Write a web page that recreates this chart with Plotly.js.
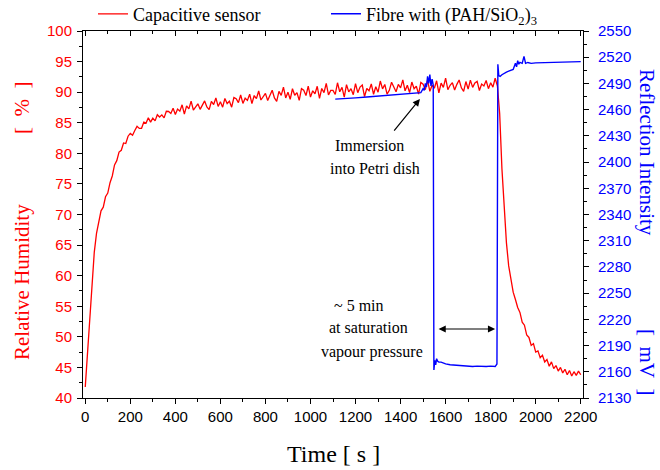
<!DOCTYPE html>
<html><head><meta charset="utf-8">
<script src="https://cdn.plot.ly/plotly-3.0.1.min.js"></script>
<style>html,body{margin:0;padding:0;background:#fff}</style>
</head><body><div id="chart" style="width:660px;height:470px"></div>
<script>
// Capacitive sensor, relative humidity [%], sampled every 10 s from 0 to 2200 s
const timeStep = 10;
const humidity = [
  41.8, 47.2, 53.5, 59.6, 63.8, 66.9, 68.6, 70.6, 71.2, 72.9,
  73.5, 75.2, 76.3, 78.1, 78.8, 80.2, 80.5, 81.7, 81.6, 82.8,
  83.25, 82.97, 83.74, 84.41, 84.08, 84.1, 85.1, 84.95, 85.8, 85.1,
  85.75, 85.31, 86.32, 85.93, 86.29, 85.8, 86.87, 86.84, 86.51, 87.38,
  86.36, 87.23, 86.9, 87.93, 86.4, 87.75, 87.26, 88.53, 87.08, 87.71,
  88.1, 87.19, 87.96, 88.57, 87.58, 87.15, 88.48, 87.97, 89.06, 87.67,
  88.44, 87.54, 88.96, 88.14, 88.52, 87.54, 89.12, 88.94, 88.28, 89.54,
  88.16, 89.01, 88.66, 89.67, 88.12, 89.45, 88.94, 90.19, 88.72, 89.33,
  89.8, 88.64, 89.58, 90.32, 89.06, 88.5, 90.14, 89.48, 90.82, 89.06,
  90.0, 88.83, 90.56, 89.49, 89.92, 88.65, 90.58, 90.31, 89.44, 90.97,
  89.2, 90.22, 89.74, 90.96, 88.98, 90.6, 89.92, 91.44, 89.56, 90.28,
  90.3, 89.62, 91.54, 90.06, 90.78, 89.2, 91.22, 90.04, 90.56, 89.58,
  91.4, 89.92, 90.84, 91.16, 89.28, 90.6, 90.22, 91.34, 89.66, 90.88,
  90.0, 91.82, 90.54, 91.26, 89.68, 90.3, 91.62, 90.94, 90.06, 91.28,
  90.7, 92.01, 90.22, 91.13, 89.94, 91.65, 90.56, 90.97, 89.68, 91.59,
  91.3, 90.41, 91.92, 90.13, 91.14, 90.65, 91.86, 89.87, 91.48, 90.79,
  92.3, 90.42, 91.13, 91.55, 90.36, 91.28, 91.99, 90.71, 90.12, 91.74,
  90.51, 91.97, 90.78, 91.52, 91.77, 90.27, 91.32, 91.02, 91.91, 90.57,
  91.54, 90.83, 92.28, 91.01, 86.5, 77.5, 71.0, 65.4, 61.6, 59.4,
  57.3, 56.1, 54.8, 54.0, 52.4, 51.9, 50.3, 49.9, 48.6, 48.9,
  47.5, 47.7, 46.6, 47.0, 45.9, 46.3, 45.2, 45.9, 44.8, 45.3,
  44.4, 45.0, 44.1, 44.7, 43.8, 44.5, 43.6, 44.3, 43.7, 44.4, 43.8
];
const humidityTime = humidity.map((_, i) => i * timeStep);

// Fibre with (PAH/SiO2)3, reflection intensity [mV]
const reflectionTime = [
  1110, 1150, 1200, 1250, 1300, 1350, 1400, 1450, 1490, 1500,
  1505, 1510, 1515, 1520, 1525, 1530, 1535, 1540, 1545, 1548,
  1552, 1556, 1560, 1565, 1570, 1580, 1600, 1620, 1640, 1660,
  1680, 1700, 1720, 1740, 1760, 1780, 1800, 1820, 1828, 1832,
  1836, 1842, 1850, 1860, 1870, 1880, 1890, 1900, 1910, 1915,
  1920, 1925, 1930, 1940, 1948, 1955, 1965, 1980, 2000, 2050,
  2100, 2150, 2200
];
const reflection = [
  2472, 2473, 2473.5, 2474.5, 2475.5, 2476, 2477, 2478, 2479.5, 2484,
  2482, 2490, 2486, 2498, 2490, 2500, 2487, 2495, 2488, 2162,
  2173, 2168, 2175, 2172, 2171, 2171, 2169, 2168, 2167.5, 2167,
  2166.5, 2166.5, 2166, 2166.5, 2166, 2166, 2166.5, 2166, 2169, 2512,
  2499, 2498, 2500, 2502, 2503, 2504, 2505, 2506, 2513, 2509,
  2516, 2512, 2514, 2513, 2521, 2513, 2514, 2513, 2513.5, 2514,
  2514, 2514.5, 2515
];

const xTickVals = [0, 200, 400, 600, 800, 1000, 1200, 1400, 1600, 1800, 2000, 2200];
const rhTickVals = [40, 45, 50, 55, 60, 65, 70, 75, 80, 85, 90, 95, 100];
const riTickVals = [2130, 2160, 2190, 2220, 2250, 2280, 2310, 2340, 2370, 2400, 2430, 2460, 2490, 2520, 2550];

const SERIF = '"Liberation Serif", "Times New Roman", serif';
const SANS = '"Liberation Sans", Arial, sans-serif';
const xRange = [-10, 2210];

const traces = [
  {x: humidityTime, y: humidity, type: 'scatter', mode: 'lines', name: 'Capacitive sensor',
   line: {color: '#ff0000', width: 1.3}, xaxis: 'x', yaxis: 'y'},
  {x: reflectionTime, y: reflection, type: 'scatter', mode: 'lines', name: 'Fibre with (PAH/SiO<sub>2</sub>)<sub>3</sub>',
   line: {color: '#0000ff', width: 1.4}, xaxis: 'x', yaxis: 'y2'},
  {x: [null], y: [null], xaxis: 'x2', yaxis: 'y', showlegend: false, hoverinfo: 'skip', mode: 'lines'}
];

const ann = (text, x, y, extra) => Object.assign({text, x, y, xref: 'x', yref: 'y', showarrow: false,
  font: {family: SERIF, size: 16, color: '#000'}}, extra || {});
const sideTitle = (text, x, y, angle, color) => ({text, x, y, xref: 'paper', yref: 'paper',
  textangle: angle, xanchor: 'center', yanchor: 'middle', showarrow: false,
  font: {family: SERIF, size: 21, color}});

const layout = {
  width: 660, height: 470,
  margin: {l: 83, r: 77, t: 31, b: 72, autoexpand: false},
  paper_bgcolor: '#fff', plot_bgcolor: '#fff',
  showlegend: true,
  legend: {orientation: 'h', x: 0.02, xanchor: 'left', y: 1.046, yanchor: 'middle',
    font: {family: SERIF, size: 18, color: '#000'}, entrywidth: 188, bgcolor: 'rgba(0,0,0,0)'},
  xaxis: {range: xRange, autorange: false, tickvals: xTickVals, ticks: 'outside', ticklen: 5, tickwidth: 1,
    tickcolor: '#000', showline: true, linecolor: '#000', linewidth: 1, showgrid: false, zeroline: false,
    tickfont: {family: SANS, size: 15, color: '#000'},
    minor: {dtick: 100, tick0: 0, ticks: 'outside', ticklen: 3, tickcolor: '#000', showgrid: false}},
  xaxis2: {range: xRange, autorange: false, overlaying: 'x', side: 'top', anchor: 'y', tickvals: xTickVals,
    ticks: 'inside', ticklen: 5, tickcolor: '#000', showticklabels: false, showline: true, linecolor: '#000',
    showgrid: false, zeroline: false,
    minor: {dtick: 100, tick0: 0, ticks: 'inside', ticklen: 3, tickcolor: '#000', showgrid: false}},
  yaxis: {range: [40, 100], autorange: false, tickvals: rhTickVals, ticks: 'outside', ticklen: 5,
    tickcolor: '#000', showline: true, linecolor: '#000', showgrid: false, zeroline: false,
    tickfont: {family: SANS, size: 15, color: '#ff0000'}, ticklabelstandoff: 2,
    minor: {dtick: 2.5, tick0: 40, ticks: 'outside', ticklen: 3, tickcolor: '#000', showgrid: false}},
  yaxis2: {range: [2130, 2550], autorange: false, overlaying: 'y', side: 'right', anchor: 'x',
    tickvals: riTickVals, ticks: 'outside', ticklen: 5, tickcolor: '#000', showline: true, linecolor: '#000',
    showgrid: false, zeroline: false, tickfont: {family: SANS, size: 15, color: '#0000ff'}, ticklabelstandoff: 6,
    minor: {dtick: 15, tick0: 2130, ticks: 'outside', ticklen: 3, tickcolor: '#000', showgrid: false}},
  annotations: [
    sideTitle('Relative Humidity', -0.122, 0.316, -90, '#ff0000'),
    sideTitle('[&nbsp;&nbsp;%&nbsp;&nbsp;]', -0.122, 0.79, -90, '#ff0000'),
    sideTitle('Reflection Intensity', 1.128, 0.67, 90, '#0000ff'),
    sideTitle('[&nbsp;&nbsp;mV&nbsp;&nbsp;]', 1.128, 0.098, 90, '#0000ff'),
    {text: 'Time [ s ]', xref: 'paper', yref: 'paper', x: 0.5, y: -0.152, xanchor: 'center', yanchor: 'middle',
     showarrow: false, font: {family: SERIF, size: 24, color: '#000'}},
    ann('Immersion', 1264, 81.36),
    ann('into Petri dish', 1287, 77.44),
    ann('~ 5 min', 1216, 55.2),
    ann('at saturation', 1256, 51.45),
    ann('vapour pressure', 1273, 47.52),
    {text: '', x: 1486, y: 88.88, xref: 'x', yref: 'y', showarrow: true, ax: -27, ay: 33,
     arrowhead: 2, arrowsize: 1.2, arrowwidth: 1.2, arrowcolor: '#000'},
    {text: '', x: 1820, y: 51.28, xref: 'x', yref: 'y', showarrow: true, ax: 1562, ay: 51.28,
     axref: 'x', ayref: 'y', arrowhead: 2, startarrowhead: 2, arrowside: 'end+start', arrowsize: 1.2,
     startarrowsize: 1.2, arrowwidth: 1.2, arrowcolor: '#000'}
  ]
};

Plotly.newPlot('chart', traces, layout, {staticPlot: true, displayModeBar: false});
</script>
</body></html>
